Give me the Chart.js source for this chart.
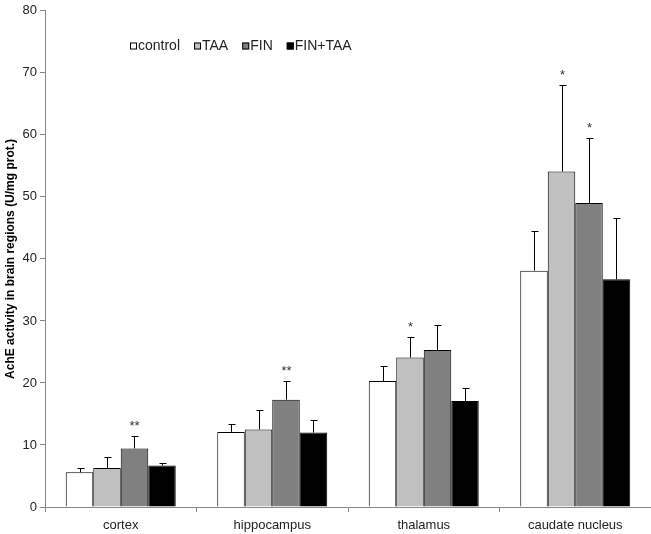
<!DOCTYPE html>
<html>
<head>
<meta charset="utf-8">
<script src="https://cdn.jsdelivr.net/npm/chart.js@4"></script>
<style>
  html, body { margin: 0; padding: 0; background: #fff; }
  #wrap { width: 651px; height: 534px; }
</style>
</head>
<body>
<div id="wrap"><canvas id="chart"></canvas></div>
<script>
const regions = ['cortex', 'hippocampus', 'thalamus', 'caudate nucleus']
const yTicks = [0, 10, 20, 30, 40, 50, 60, 70, 80]

// means
const control = [5.6, 12.1, 20.3, 38.1]
const taa = [6.3, 12.5, 24.1, 54.1]
const fin = [9.45, 17.3, 25.3, 49.0]
const finTaa = [6.7, 12.0, 17.1, 36.7]

// SD (upper error bars only)
const controlSd = [0.7, 1.3, 2.5, 6.4]
const taaSd = [1.7, 3.1, 3.3, 14.0]
const finSd = [2.05, 3.0, 4.0, 10.5]
const finTaaSd = [0.4, 2.1, 2.1, 9.9]

// significance marks
const controlSig = ['', '', '', '']
const taaSig = ['', '', '*', '*']
const finSig = ['**', '**', '', '*']
const finTaaSig = ['', '', '', '']

const font = 'Liberation Sans, Arial, sans-serif'

function makeSet(label, data, color, sd, sig) {
    return {
        label: label,
        data: data,
        backgroundColor: color,
        borderColor: '#000',
        borderWidth: 1,
        borderSkipped: 'bottom',
        sd: sd,
        sig: sig
    }
}

const errorBars = {
    id: 'errorBars',
    afterDatasetsDraw(chart) {
        const ctx = chart.ctx
        const y = chart.scales.y
        ctx.save()
        chart.data.datasets.forEach((ds, i) => {
            const meta = chart.getDatasetMeta(i)
            meta.data.forEach((bar, j) => {
                const top = y.getPixelForValue(ds.data[j] + ds.sd[j])
                const x = Math.round(bar.x) + 0.5
                ctx.strokeStyle = '#000'
                ctx.lineWidth = 1
                ctx.beginPath()
                ctx.moveTo(x, bar.y)
                ctx.lineTo(x, Math.round(top) + 0.5)
                ctx.moveTo(x - 3, Math.round(top) + 0.5)
                ctx.lineTo(x + 4, Math.round(top) + 0.5)
                ctx.stroke()
                if (ds.sig[j]) {
                    ctx.fillStyle = '#333'
                    ctx.font = '13px ' + font
                    ctx.textAlign = 'center'
                    ctx.textBaseline = 'alphabetic'
                    ctx.fillText(ds.sig[j], x, top - 6)
                }
            })
        })
        ctx.restore()
    }
}

const legendBox = {
    id: 'legendBox',
    afterDraw(chart) {
        const ctx = chart.ctx
        ctx.save()
        ctx.font = '14px ' + font
        ctx.textBaseline = 'middle'
        ctx.textAlign = 'left'
        let x = 130
        const yc = 46
        chart.data.datasets.forEach(ds => {
            ctx.fillStyle = ds.backgroundColor
            ctx.fillRect(x, yc - 3.5, 7, 7)
            ctx.strokeStyle = '#000'
            ctx.lineWidth = 1
            ctx.strokeRect(x + 0.5, yc - 3.5 + 0.5, 6, 6)
            ctx.fillStyle = '#222'
            ctx.fillText(ds.label, x + 8, yc)
            x += 8 + ctx.measureText(ds.label).width + 14
        })
        ctx.restore()
    }
}

const data = {
    labels: regions,
    datasets: [
        makeSet('control', control, '#ffffff', controlSd, controlSig),
        makeSet('TAA', taa, '#c0c0c0', taaSd, taaSig),
        makeSet('FIN', fin, '#808080', finSd, finSig),
        makeSet('FIN+TAA', finTaa, '#000000', finTaaSd, finTaaSig)
    ]
}

const config = {
    type: 'bar',
    data: data,
    options: {
        responsive: true,
        maintainAspectRatio: false,
        animation: false,
        layout: { padding: { top: 6, right: 0, left: 0, bottom: 0 } },
        plugins: {
            legend: { display: false },
            tooltip: { enabled: false }
        },
        datasets: {
            bar: { barPercentage: 1, categoryPercentage: 0.726 }
        },
        scales: {
            x: {
                grid: { drawOnChartArea: false, tickLength: 5, color: '#888', offset: true },
                border: { color: '#888' },
                ticks: { color: '#222', font: { family: font, size: 13 }, padding: 6 },
                afterFit(s) { s.height = 27 }
            },
            y: {
                min: 0,
                max: 80,
                afterBuildTicks(s) { s.ticks = yTicks.map(v => ({ value: v })) },
                grid: { drawOnChartArea: false, tickLength: 5, color: '#888' },
                border: { color: '#888' },
                ticks: { color: '#222', font: { family: font, size: 13 }, padding: 3 },
                title: {
                    display: true,
                    text: 'AchE activity in brain regions (U/mg prot.)',
                    color: '#000',
                    font: { family: font, size: 12, weight: 'bold' },
                    padding: { top: 3, bottom: 0 }
                },
                afterFit(s) { s.width = 45 }
            }
        }
    },
    plugins: [errorBars, legendBox]
}

let ctx = document.getElementById('chart').getContext('2d')
new Chart(ctx, config)
</script>
</body>
</html>
